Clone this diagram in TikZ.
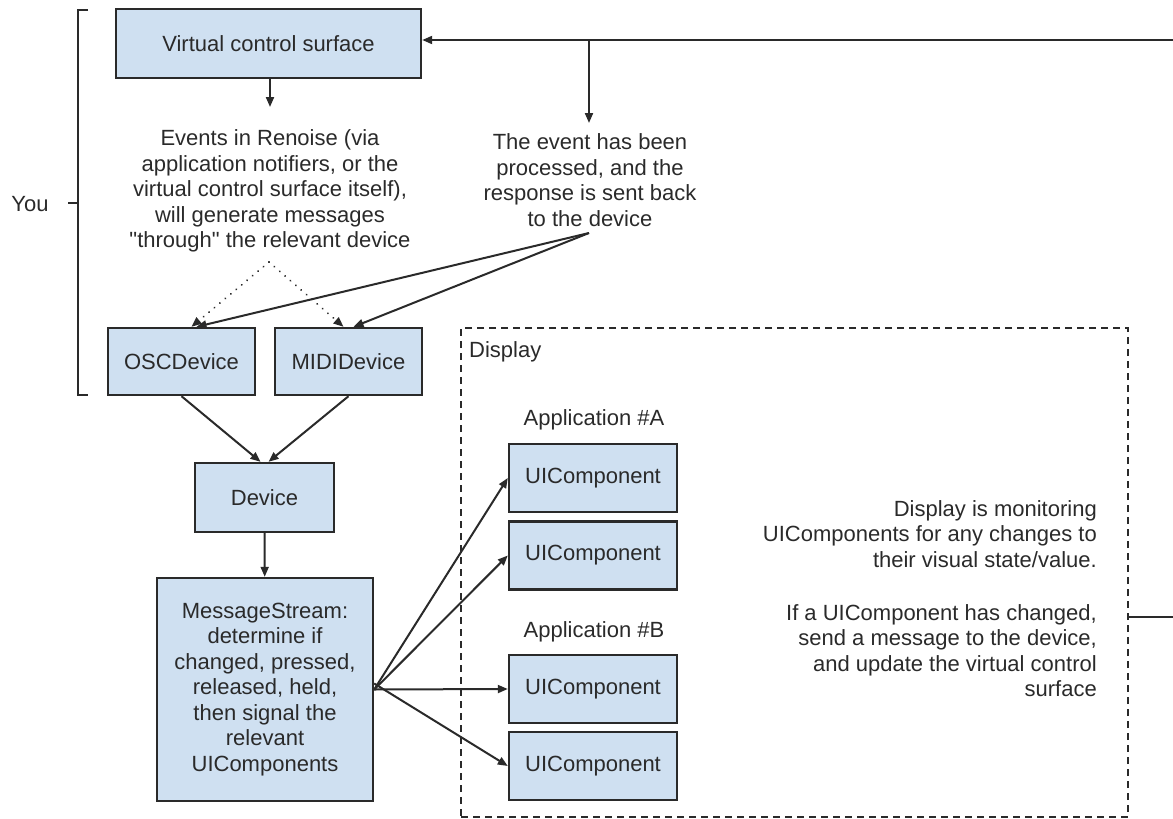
\documentclass[tikz,border=0pt]{standalone}
\usepackage{fontspec}
\setmainfont{Liberation Sans}
\usetikzlibrary{arrows.meta}
\definecolor{boxfill}{HTML}{CFE0F1}
\definecolor{ink}{HTML}{2A2A2A}
% straight double quote, set as a glyph so the TeX mapping leaves it alone
\newcommand\straightdq{\XeTeXglyph\XeTeXcharglyph"22\relax}
\tikzset{
  box/.style={draw=ink, fill=boxfill, line width=2.4pt, inner sep=2pt,
    align=center, text=ink},
  note/.style={align=center, inner sep=0pt, text=ink},
  link/.style={draw=ink, line width=2pt},
  arr/.style={link, -{Triangle[length=10pt,width=8pt]}},
  dotarr/.style={arr, line cap=round, dash pattern=on 0.1pt off 7pt},
  frame/.style={draw=ink, line width=2pt, dash pattern=on 7pt off 5pt}
}
\begin{document}
\begin{tikzpicture}[x=1pt, y=-1pt,
  every node/.append style={font=\fontsize{22}{25.5}\selectfont}]
\useasboundingbox (0,0) rectangle (1173,819);

% top row
\node[box, minimum width=305pt, minimum height=69pt] (vcs) at (268.5,43.5) {Virtual control surface};
\node[note] (events) at (270,191) {Events in Renoise (via\\application notifiers, or the\\virtual control surface itself),\\will generate messages\\\straightdq through\straightdq{} the relevant device};
\node[note] (processed) at (590,180) {The event has been\\processed, and the\\response is sent back\\to the device};
\coordinate (evtop) at (270,107);
\coordinate (evbot) at (269,262);
\coordinate (rtop) at (1173,40);
\coordinate (junction) at (589,40);
\coordinate (prtop) at (589,123);
\coordinate (prbot) at (589,233);

% devices
\node[box, minimum width=147pt, minimum height=67pt] (osc) at (181.5,361.5) {OSCDevice};
\node[box, minimum width=147pt, minimum height=67pt] (midi) at (348.5,361.5) {MIDIDevice};
\node[box, minimum width=139pt, minimum height=69pt] (device) at (264.5,497.5) {Device};
\node[box, minimum width=216pt, minimum height=223pt] (ms) at (265,689.5)
  {MessageStream:\\determine if\\changed, pressed,\\released, held,\\then signal the\\relevant\\UIComponents};

% the "You" bracket
\node[note] (you) at (30,204) {You};
\draw[link] (88,10) -- (78,10) -- (78,395) -- (88,395);
\draw[link] (68,203) -- (78,203);

% display
\node[frame, minimum width=667pt, minimum height=489pt] (display) at (794.5,572.5) {};
\node[note, anchor=west] (displabel) at (469,352) {Display};
\node[note] (appa) at (594,420) {Application \#A};
\node[note] (appb) at (594,632) {Application \#B};
\node[box, minimum width=168pt, minimum height=68pt] (ui1) at (593,478) {UIComponent};
\node[box, minimum width=168pt, minimum height=68pt] (ui2) at (593,555.5) {UIComponent};
\node[box, minimum width=168pt, minimum height=68pt] (ui3) at (593,689) {UIComponent};
\node[box, minimum width=168pt, minimum height=68pt] (ui4) at (593,766) {UIComponent};
\node[note, align=right, anchor=east] (mon) at (1097,534)
  {Display is monitoring\\UIComponents for any changes to\\their visual state/value.};
\node[note, align=right, anchor=east] (upd) at (1097,650.5)
  {If a UIComponent has changed,\\send a message to the device,\\and update the virtual control\\surface};
\coordinate (rmid) at (1173,617);

% connectors
\draw[arr] (vcs.south -| evtop) -- (evtop);
\draw[arr] (rtop) -- (rtop -| vcs.east);
\draw[arr] (junction) -- (prtop);
\draw[dotarr] (evbot) -- ([xshift=10pt]osc.north);
\draw[dotarr] (evbot) -- ([xshift=-5pt]midi.north);
\draw[arr] (prbot) -- ([xshift=15pt]osc.north);
\draw[arr] (prbot) -- ([xshift=5pt]midi.north);
\draw[arr] (osc.south) -- ([xshift=-4pt]device.north);
\draw[arr] (midi.south) -- ([xshift=4pt]device.north);
\draw[arr] (device) -- (ms);
\draw[arr] (ms.east) -- (ui1.west);
\draw[arr] (ms.east) -- (ui2.west);
\draw[arr] (ms.east) -- (ui3.west);
\draw[arr] ([yshift=6pt]ms.east) -- (ui4.west);
\draw[link] (display.east |- rmid) -- (rmid);
\end{tikzpicture}
\end{document}
